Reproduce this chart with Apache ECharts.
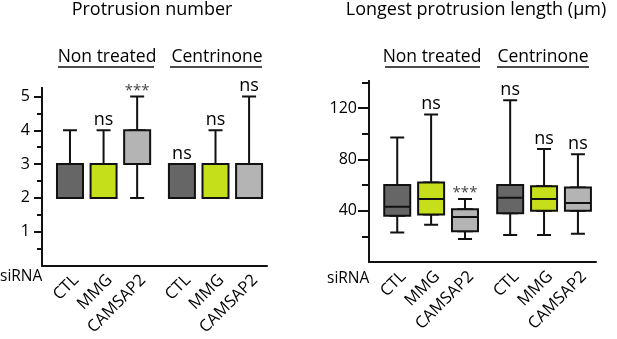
<!DOCTYPE html>
<html>
<head>
<meta charset="UTF-8">
<title></title>
<script src="https://cdn.jsdelivr.net/npm/echarts@6/dist/echarts.min.js"></script>
</head>
<body style="margin:0;background:#fff">
<div id="chart" style="width:617px;height:339px;"></div>
<script type="text/javascript">
// siRNA names, two treatment groups of three
var categories = ['CTL', 'MMG', 'CAMSAP2', 'CTL', 'MMG', 'CAMSAP2'];
var groups = ['Non treated', 'Centrinone'];
// [min, q1, median, q3, max]
var numberStats = [[2, 2, 2, 3, 4], [2, 2, 2, 3, 4], [2, 3, 3, 4, 5], [2, 2, 2, 3, 3], [2, 2, 2, 3, 4], [2, 2, 2, 3, 5]];
var lengthStats = [[23, 36, 43, 60, 97], [29, 37, 49, 62, 115], [18, 24, 35, 41, 49], [21, 38, 50, 60, 126], [21, 40, 49, 59, 88], [22, 40, 46, 58, 84]];
var numberSig = ['', 'ns', '***', 'ns', 'ns', 'ns'];
var lengthSig = ['', 'ns', '***', 'ns', 'ns', 'ns'];
var numberTicks = [1, 2, 3, 4, 5];
var numberMinor = [0.5, 1.5, 2.5, 3.5, 4.5];
var lengthTicks = [40, 80, 120];
var lengthMinor = [20, 60, 100, 140];

var colors = ['#666666', '#c5df1b', '#b4b4b4'];
var FONT = '"Open Sans", sans-serif';
var ink = '#111';

// slot positions on the x scale: 6 per box, extra gap between groups
var xpos = categories.map(function (c, i) { return 6 * (i + 1) + (i >= 3 ? 2 : 0); });

var xAxes = [], yAxes = [], grids = [], series = [];

function panel(p, grid, stats, sig, ticks, minor, ymax, tickLen, minorLen) {
  grids.push(grid);
  xAxes.push({
    type: 'value', gridIndex: p, min: 1, max: 41.2,
    axisLine: {lineStyle: {color: ink, width: 2}},
    axisTick: {show: false},
    splitLine: {show: false},
    axisLabel: {
      customValues: xpos, rotate: 45, margin: 6, color: '#000', verticalAlign: 'top',
      fontFamily: FONT, fontSize: 16.5,
      formatter: function (v) { var i = xpos.indexOf(v); return i < 0 ? '' : categories[i]; }
    }
  });
  xAxes.push({type: 'value', gridIndex: p, min: 1, max: 41.2, show: false});
  yAxes.push({
    type: 'value', gridIndex: p, min: 0, max: ymax, position: 'left',
    axisLine: {show: true, lineStyle: {color: ink, width: 2}},
    axisTick: {show: true, customValues: ticks, length: tickLen, lineStyle: {color: ink, width: 2}},
    axisLabel: {customValues: ticks, margin: 12, color: '#000', fontFamily: FONT, fontSize: 16},
    splitLine: {show: false}
  });
  // same line again, carrying the short half-step ticks (labels kept but invisible)
  yAxes.push({
    type: 'value', gridIndex: p, min: 0, max: ymax, position: 'left', offset: 0,
    axisLine: {show: true, lineStyle: {color: ink, width: 2}},
    axisTick: {show: true, customValues: minor, length: minorLen, lineStyle: {color: ink, width: 2}},
    axisLabel: {show: true, customValues: minor, color: 'rgba(0,0,0,0)', fontSize: 8, margin: 2},
    splitLine: {show: false}
  });
  var xi = 2 * p, yi = 2 * p;
  series.push({
    type: 'boxplot', xAxisIndex: xi + 1, yAxisIndex: yi, boxWidth: [14, 14],
    silent: true,
    itemStyle: {color: '#fff', borderColor: ink, borderWidth: 2},
    data: stats.map(function (s, i) { return [xpos[i]].concat(s); })
  });
  series.push({
    type: 'boxplot', xAxisIndex: xi, yAxisIndex: yi, boxWidth: [26, 26],
    silent: true,
    data: stats.map(function (s, i) {
      return {
        value: [xpos[i], s[1], s[1], s[2], s[3], s[3]],
        itemStyle: {color: colors[i % 3], borderColor: ink, borderWidth: 2}
      };
    })
  });
  series.push({
    type: 'scatter', xAxisIndex: xi, yAxisIndex: yi, symbolSize: 1,
    silent: true,
    itemStyle: {color: 'rgba(0,0,0,0)', opacity: 1},
    data: stats.map(function (s, i) {
      var star = sig[i] === '***';
      return {
        value: [xpos[i], s[4]],
        label: {
          show: sig[i] !== '', formatter: sig[i], position: 'top',
          distance: star ? -2 : 1,
          fontFamily: FONT, fontSize: star ? 15 : 18, color: star ? '#444' : '#000'
        }
      };
    })
  });
}

panel(0, {left: 42, top: 88, width: 225, height: 177.5}, numberStats, numberSig, numberTicks, numberMinor, 5.25, 8, 5);
panel(1, {left: 369, top: 81, width: 227, height: 181}, lengthStats, lengthSig, lengthTicks, lengthMinor, 141, 11, 7);

function txt(s, x, y, size, align) {
  return {
    type: 'text', x: x, y: y, silent: true,
    style: {text: s, fill: '#000', font: size + 'px ' + FONT, align: align || 'center', verticalAlign: 'middle',
      textAlign: align || 'center', textVerticalAlign: 'middle'}
  };
}
function uline(x1, x2, y) {
  return {type: 'line', silent: true, shape: {x1: x1, y1: y, x2: x2, y2: y}, style: {stroke: ink, lineWidth: 1.5}};
}

var graphics = [
  txt('Protrusion number', 152, 9.5, 18),
  txt('Longest protrusion length (\u03bcm)', 476, 9.5, 18),
  txt(groups[0], 107, 57, 17.5), txt(groups[1], 217, 57, 17.5),
  txt(groups[0], 432, 57, 17.5), txt(groups[1], 543, 57, 17.5),
  uline(58, 154, 67), uline(170, 262, 67), uline(385, 480, 67), uline(497, 589, 67),
  txt('siRNA', 0, 277, 15.5, 'left'), txt('siRNA', 327, 279, 15.5, 'left')
];

var chart = echarts.init(document.getElementById('chart'));
chart.setOption({
  animation: false,
  grid: grids,
  xAxis: xAxes,
  yAxis: yAxes,
  series: series,
  graphic: graphics
});
</script>
</body>
</html>
